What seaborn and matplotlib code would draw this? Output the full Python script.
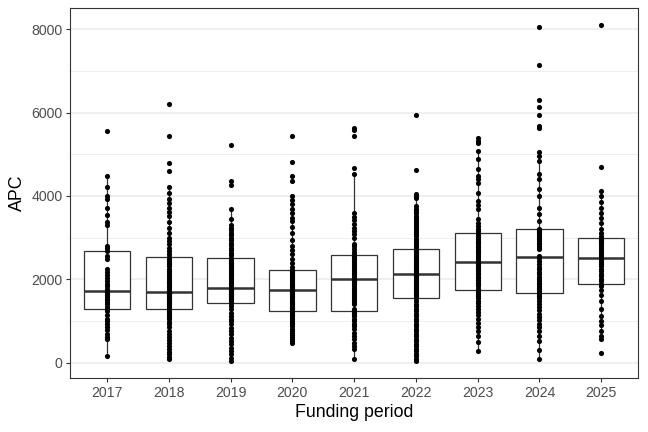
import numpy as np
import pandas as pd
import matplotlib
matplotlib.use("Agg")
import matplotlib.pyplot as plt
import seaborn as sns
from matplotlib.ticker import MultipleLocator

# APC values per funding period
apc_2017 = [170, 560, 620, 700, 780, 850, 930, 1000, 1060, 1150, 1230,
            1295,
            1340, 1400, 1450, 1500, 1540, 1580, 1620, 1650, 1680, 1700,
            1710,
            1760, 1840, 1900, 1960, 2030, 2100, 2180, 2250, 2480, 2550,
            2686,
            2750, 2800, 3300, 3370, 3550, 3710, 3920, 4000, 4220, 4490, 5560]

apc_2018 = [79, 130, 200, 270, 340, 410, 480, 550, 620, 690, 760, 850, 920, 980,
            1040, 1090, 1140, 1180, 1220, 1250,
            1278,
            1310, 1340, 1370, 1400, 1430, 1460, 1490, 1515, 1540, 1560, 1580, 1600,
            1615, 1630, 1645, 1660, 1670, 1680, 1688,
            1693,
            1730, 1770, 1810, 1850, 1890, 1930, 1970, 2010, 2060, 2110, 2160, 2210,
            2260, 2310, 2360, 2400, 2440, 2480, 2510,
            2542,
            2600, 2680, 2760, 2840, 2920, 3000, 3120, 3240, 3370, 3520, 3620, 3720,
            3840, 3920, 4080, 4220, 4590, 4780, 5430, 6200]

apc_2019 = [48, 120, 200, 280, 360, 440, 520, 600, 680, 760, 840, 920, 990, 1060,
            1130, 1200, 1280, 1360,
            1439,
            1470, 1500, 1530, 1560, 1590, 1615, 1640, 1660, 1680, 1700, 1715, 1730,
            1745, 1760, 1770, 1780, 1790,
            1798,
            1840, 1880, 1920, 1960, 2000, 2040, 2080, 2120, 2160, 2200, 2240, 2280,
            2320, 2360, 2400, 2440, 2480,
            2518,
            2580, 2640, 2700, 2760, 2820, 2880, 2940, 3000, 3060, 3120, 3180, 3240,
            3300, 3440, 3690, 4260, 4350, 5220]

apc_2020 = [480, 520, 570, 620, 670, 720, 770, 820, 870, 920, 960, 1000, 1040, 1080,
            1110, 1140, 1170, 1200, 1220, 1235,
            1247,
            1280, 1310, 1340, 1370, 1400, 1430, 1460, 1490, 1520, 1550, 1580, 1610,
            1640, 1660, 1680, 1700, 1715, 1730, 1742,
            1751,
            1775, 1800, 1825, 1850, 1875, 1900, 1925, 1950, 1975, 2000, 2025, 2050,
            2075, 2100, 2125, 2150, 2170, 2190, 2205,
            2221,
            2300, 2400, 2500, 2600, 2700, 2800, 2950, 3120, 3250, 3400, 3480, 3600,
            3680, 3800, 3900, 4000, 4360, 4490, 4810, 5430]

apc_2021 = [96, 320, 400, 480, 560, 640, 720, 800, 870, 940, 1000, 1060, 1110, 1160,
            1200, 1230, 1240,
            1250,
            1300, 1400, 1450, 1500, 1550, 1600, 1650, 1700, 1750, 1800, 1850, 1880,
            1910, 1940, 1970, 1990,
            2005,
            2040, 2080, 2120, 2160, 2200, 2240, 2280, 2320, 2360, 2400, 2440, 2480,
            2510, 2540, 2560, 2575,
            2590,
            2650, 2720, 2790, 2860, 3000, 3080, 3160, 3240, 3320, 3420, 3500, 3600,
            4520, 4680, 5430, 5580, 5630]

apc_2022 = [38, 100, 160, 220, 280, 340, 400, 460, 520, 580, 640, 700, 760, 820, 880,
            940, 1000, 1060, 1120, 1180, 1240, 1300, 1360, 1420, 1490,
            1549,
            1575, 1600, 1625, 1650, 1675, 1700, 1725, 1750, 1775, 1800, 1825, 1850,
            1875, 1900, 1925, 1950, 1975, 2000, 2025, 2050, 2070, 2090, 2105, 2115,
            2125,
            2150, 2175, 2200, 2225, 2250, 2275, 2300, 2325, 2350, 2375, 2400, 2425,
            2450, 2475, 2500, 2525, 2550, 2575, 2600, 2625, 2650, 2675, 2700, 2720,
            2734,
            2780, 2830, 2880, 2930, 2980, 3030, 3080, 3130, 3180, 3230, 3280, 3330,
            3380, 3430, 3480, 3530, 3580, 3630, 3680, 3755, 3960, 4000, 4036, 4620, 5940]

apc_2023 = [280, 490, 640, 760, 860, 960, 1050, 1140, 1220, 1300, 1370, 1430, 1490,
            1550, 1600, 1650, 1690, 1715,
            1734,
            1780, 1830, 1880, 1930, 1980, 2030, 2080, 2120, 2160, 2200, 2240, 2270,
            2300, 2330, 2360, 2385, 2400,
            2412,
            2450, 2490, 2530, 2570, 2610, 2650, 2690, 2730, 2770, 2810, 2850, 2890,
            2930, 2970, 3010, 3050, 3080,
            3101,
            3160, 3220, 3280, 3350, 3440, 3680, 3780, 3880, 4080, 4320, 4400, 4480,
            4640, 4880, 5070, 5280, 5330, 5400]

apc_2024 = [80, 300, 520, 640, 760, 860, 940, 1020, 1100, 1180, 1260, 1340, 1420,
            1490, 1550, 1610, 1650,
            1679,
            1720, 1760, 1800, 1840, 1880, 1920, 1960, 2000, 2060, 2120, 2180, 2240,
            2300, 2380, 2450, 2510,
            2532,
            2560, 2720, 2760, 2800, 2840, 2880, 2920, 2960, 3000, 3040, 3080, 3110,
            3140, 3160, 3180, 3190,
            3197,
            3400, 3560, 3700, 4000, 4160, 4400, 4520, 4840, 4960, 5050, 5640, 5690,
            5950, 6130, 6310, 7150, 8060]

apc_2025 = [240, 560, 640, 760, 900, 1000, 1120, 1300, 1480, 1620, 1750, 1850,
            1894,
            1960, 2020, 2080, 2140, 2200, 2260, 2320, 2380, 2420, 2460, 2490,
            2508,
            2550, 2600, 2650, 2700, 2750, 2800, 2850, 2890, 2920, 2950, 2970,
            2988,
            3050, 3120, 3200, 3360, 3480, 3600, 3720, 3850, 3990, 4130, 4700, 8100]

periods = ["2017", "2018", "2019", "2020", "2021", "2022", "2023", "2024", "2025"]
apc_lists = [apc_2017, apc_2018, apc_2019, apc_2020, apc_2021,
             apc_2022, apc_2023, apc_2024, apc_2025]

df = pd.concat([pd.DataFrame({"period": p, "APC": v})
                for p, v in zip(periods, apc_lists)], ignore_index=True)

sns.set_theme(style="white")
plt.rcParams["font.family"] = ["Liberation Sans", "DejaVu Sans"]

fig, ax = plt.subplots(figsize=(6.48, 4.32), dpi=100)
fig.subplots_adjust(left=0.108, right=0.985, top=0.981, bottom=0.125)

# theme_bw like grid
ax.set_axisbelow(True)
ax.yaxis.set_major_locator(MultipleLocator(2000))
ax.yaxis.set_minor_locator(MultipleLocator(1000))
ax.grid(True, which="major", color="#EBEBEB", linewidth=1.1)
ax.grid(True, which="minor", axis="y", color="#EBEBEB", linewidth=0.6)

sns.boxplot(data=df, x="period", y="APC", order=periods, width=0.75,
            showfliers=False, showcaps=False, color="white", saturation=1,
            linecolor="#333333", linewidth=0.9,
            medianprops={"linewidth": 1.8, "color": "#333333"}, ax=ax)
sns.stripplot(data=df, x="period", y="APC", order=periods, jitter=False,
              color="black", size=3.7, zorder=4, ax=ax)

ymin, ymax = df["APC"].min(), df["APC"].max()
pad = (ymax - ymin) * 0.05
ax.set_ylim(ymin - pad, ymax + pad)
ax.set_xlim(-0.6, len(periods) - 0.4)

ax.set_xlabel("Funding period", fontsize=12.8, color="black", labelpad=3)
ax.set_ylabel("APC", fontsize=12.8, color="black", labelpad=4)
ax.tick_params(axis="both", which="major", labelsize=10.2, labelcolor="#4D4D4D",
               length=3, width=0.8, color="#333333", left=True, bottom=True, pad=2.5)
ax.tick_params(axis="y", which="minor", length=0)
for s in ax.spines.values():
    s.set_color("#333333")
    s.set_linewidth(0.8)

fig.savefig("out.png", dpi=100)
